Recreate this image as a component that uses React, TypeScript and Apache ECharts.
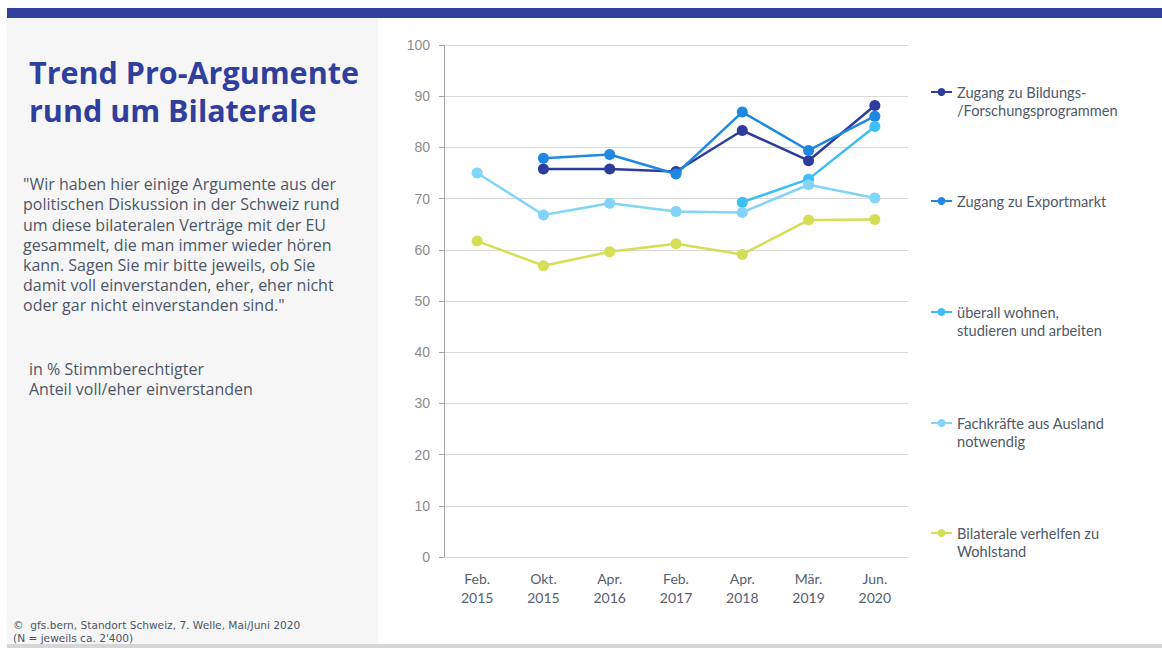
import React, { useEffect, useRef } from "react";
import * as echarts from "echarts";

const categories = ["Feb.\n2015", "Okt.\n2015", "Apr.\n2016", "Feb.\n2017", "Apr.\n2018", "Mär.\n2019", "Jun.\n2020"];
const yTicks = { min: 0, max: 100, interval: 10 };

const seriesNames = [
  "Zugang zu Bildungs-\n/Forschungsprogrammen",
  "Zugang zu Exportmarkt",
  "überall wohnen,\nstudieren und arbeiten",
  "Fachkräfte aus Ausland\nnotwendig",
  "Bilaterale verhelfen zu\nWohlstand",
];
const bildung = [null, 75.8, 75.8, 75.3, 83.3, 77.4, 88.2];
const export_ = [null, 77.9, 78.6, 74.8, 86.9, 79.4, 86.1];
const wohnen = [null, null, null, null, 69.3, 73.8, 84.1];
const fachkraefte = [75.0, 66.8, 69.1, 67.5, 67.3, 72.7, 70.1];
const wohlstand = [61.7, 56.9, 59.6, 61.2, 59.1, 65.8, 65.9];
const seriesValues = [bildung, export_, wohnen, fachkraefte, wohlstand];
const colors = ["#2E3C9E", "#1F88E2", "#3CBFF6", "#82D4F8", "#D4DF55"];
const legendCenters = [92, 201, 312, 423, 533];

const titleText = "Trend Pro-Argumente\nrund um Bilaterale";
const quoteText =
  '"Wir haben hier einige Argumente aus der\npolitischen Diskussion in der Schweiz rund\num diese bilateralen Verträge mit der EU\ngesammelt, die man immer wieder hören\nkann. Sagen Sie mir bitte jeweils, ob Sie\ndamit voll einverstanden, eher, eher nicht\noder gar nicht einverstanden sind."';
const unitText = "in % Stimmberechtigter\nAnteil voll/eher einverstanden";
const footerText = "©  gfs.bern, Standort Schweiz, 7. Welle, Mai/Juni 2020\n(N = jeweils ca. 2'400)";

const FONT = "Lato, 'Noto Sans', sans-serif";
const FONT2 = "'Open Sans', 'Noto Sans', sans-serif";

export default function App() {
  const ref = useRef<HTMLDivElement>(null);
  useEffect(() => {
    if (!ref.current) return;
    const chart = echarts.init(ref.current, undefined, { renderer: "svg" });
    const legends = seriesNames.map((name, i) => {
      const twoLine = name.includes("\n");
      const top = twoLine ? legendCenters[i] - 27 : legendCenters[i] - 9;
      return {
        show: true,
        data: [name],
        left: 930,
        top,
        orient: "vertical",
        padding: 0,
        itemWidth: 21,
        itemHeight: 10,
        selectedMode: false,
        formatter: (n: string) => (n.includes("\n") ? "\n" + n : n),
        textStyle: {
          fontFamily: FONT,
          fontSize: 14.6,
          color: "#4F5969",
          lineHeight: 18,
        },
      };
    });
    chart.setOption({
      animation: false,
      backgroundColor: "#ffffff",
      textStyle: { fontFamily: FONT },
      graphic: [
        { type: "rect", silent: true, z: -10, shape: { x: 7, y: 18, width: 371, height: 626 }, style: { fill: "#F6F6F6" } },
        { type: "rect", silent: true, z: -10, shape: { x: 7, y: 8, width: 1155, height: 10 }, style: { fill: "#313F9D" } },
        { type: "rect", silent: true, z: -10, shape: { x: 7, y: 644, width: 1155, height: 4 }, style: { fill: "#D6D6D6" } },
        {
          type: "text", x: 29, y: 53,
          style: { text: titleText, fontFamily: FONT2, fontWeight: "bold", fontSize: 30.5, lineHeight: 38, fill: "#2F3F9E", verticalAlign: "top" },
        },
        {
          type: "text", x: 23, y: 174,
          style: { text: quoteText, fontFamily: FONT2, fontSize: 16, lineHeight: 20.2, fill: "#4D5666", verticalAlign: "top" },
        },
        {
          type: "text", x: 29, y: 359,
          style: { text: unitText, fontFamily: FONT2, fontSize: 16, lineHeight: 20, fill: "#4D5666", verticalAlign: "top" },
        },
        {
          type: "text", x: 13, y: 618.5,
          style: { text: footerText, fontFamily: "'DejaVu Sans', sans-serif", fontSize: 10.6, lineHeight: 13, fill: "#4D5666", verticalAlign: "top" },
        },
      ],
      legend: legends,
      grid: { left: 444, top: 45, width: 464, height: 512, containLabel: false },
      xAxis: {
        type: "category",
        data: categories,
        boundaryGap: true,
        axisLine: { show: true, lineStyle: { color: "#D9D9D9", width: 1 } },
        axisTick: { show: false },
        axisLabel: { color: "#58606E", fontSize: 14, lineHeight: 19, margin: 12, fontFamily: FONT },
      },
      yAxis: {
        type: "value",
        min: yTicks.min,
        max: yTicks.max,
        interval: yTicks.interval,
        axisLine: { show: true, lineStyle: { color: "#A6A6A6", width: 1 } },
        axisTick: { show: true, length: 5, lineStyle: { color: "#A6A6A6" } },
        splitLine: { show: true, lineStyle: { color: "#D9D9D9", width: 1 } },
        axisLabel: { color: "#8C8C8C", fontSize: 14, margin: 14, fontFamily: "'Liberation Sans', Arial, sans-serif" },
      },
      series: seriesNames.map((name, i) => ({
        name,
        type: "line",
        data: seriesValues[i],
        connectNulls: false,
        symbol: "circle",
        symbolSize: 11,
        color: colors[i],
        lineStyle: { width: 2.5, color: colors[i] },
        itemStyle: { color: colors[i] },
        z: 2 + i,
      })),
    });
    return () => chart.dispose();
  }, []);
  return (
    <div style={{ position: "fixed", left: 0, top: 0, width: 1162, height: 648, background: "#fff" }}>
      <div ref={ref} style={{ width: 1162, height: 648 }} />
    </div>
  );
}
